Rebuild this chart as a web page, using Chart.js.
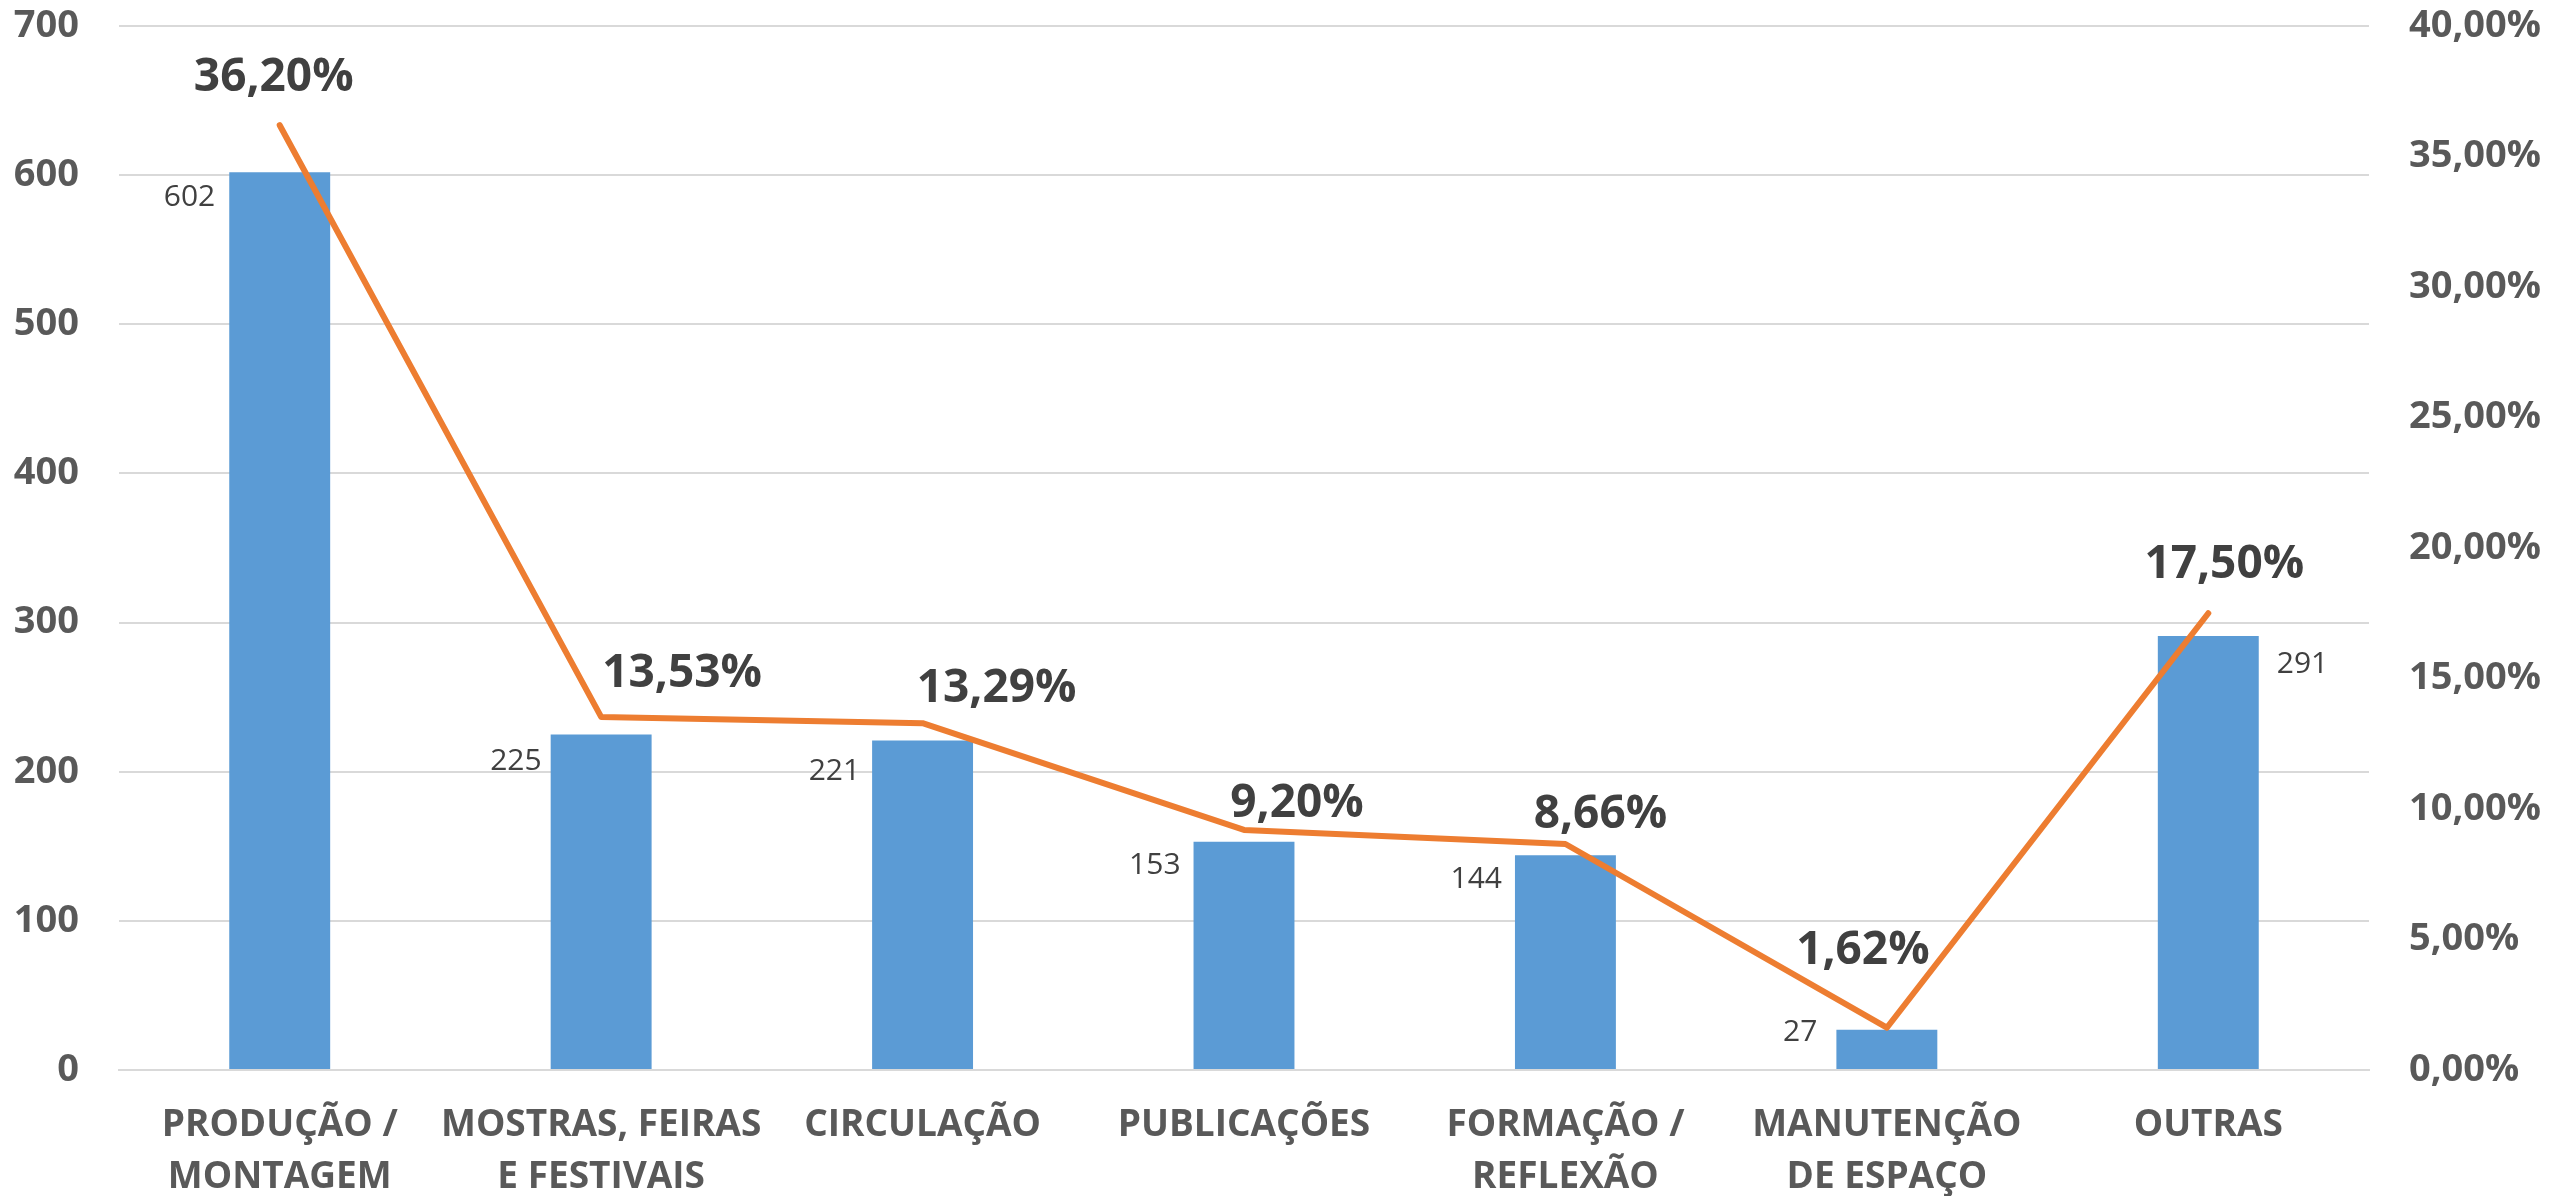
<!DOCTYPE html>
<html>
<head>
<meta charset="utf-8">
<script src="https://cdn.jsdelivr.net/npm/chart.js@4.4.1/dist/chart.umd.min.js"></script>
<style>
  html, body { margin: 0; padding: 0; background: #ffffff; }
  #wrap { width: 2549px; height: 1196px; position: relative; }
  canvas { display: block; }
</style>
</head>
<body>
<div id="wrap"><canvas id="c" width="2549" height="1196"></canvas></div>
<script>
// ---- data ----
const categories = [
  ['PRODUÇÃO /', 'MONTAGEM'],
  ['MOSTRAS, FEIRAS', 'E FESTIVAIS'],
  ['CIRCULAÇÃO'],
  ['PUBLICAÇÕES'],
  ['FORMAÇÃO /', 'REFLEXÃO'],
  ['MANUTENÇÃO', 'DE ESPAÇO'],
  ['OUTRAS']
];
const counts = [602, 225, 221, 153, 144, 27, 291];
const percents = [36.20, 13.53, 13.29, 9.20, 8.66, 1.62, 17.50];
const leftTicks = [0, 100, 200, 300, 400, 500, 600, 700];
const rightTicks = [0, 5, 10, 15, 20, 25, 30, 35, 40];

// ---- label placement (styling) ----
const pctLabelOffsets = [[-6,-51],[81,-46],[74,-38],[53,-29],[35,-32],[-24,-80],[16,-52]];
const valueLabelSide = ['left','left','left','left','left','left','right'];
const valueLabelDy = [25, 27, 31, 24, 24, 3, 28];
const valueLabelGap = [14, 9, 12, 13, 13, 19, 18];

const fmtPct = v => v.toFixed(2).replace('.', ',') + '%';

const labelPlugin = {
  id: 'customLabels',
  afterDatasetsDraw(chart) {
    const ctx = chart.ctx;
    ctx.save();
    const barMeta = chart.getDatasetMeta(1);
    ctx.font = '30px "Open Sans"';
    ctx.fillStyle = '#404040';
    ctx.textBaseline = 'middle';
    barMeta.data.forEach((bar, i) => {
      const half = bar.width / 2;
      const y = bar.y + valueLabelDy[i];
      if (valueLabelSide[i] === 'right') {
        ctx.textAlign = 'left';
        ctx.fillText(String(counts[i]), bar.x + half + valueLabelGap[i], y);
      } else {
        ctx.textAlign = 'right';
        ctx.fillText(String(counts[i]), bar.x - half - valueLabelGap[i], y);
      }
    });
    const lineMeta = chart.getDatasetMeta(0);
    const size = 46;
    ctx.font = 'bold ' + size + 'px "Open Sans"';
    ctx.fillStyle = '#404040';
    ctx.textAlign = 'center';
    ctx.textBaseline = 'alphabetic';
    lineMeta.data.forEach((pt, i) => {
      const [dx, dy] = pctLabelOffsets[i];
      ctx.fillText(fmtPct(percents[i]), pt.x + dx, pt.y + dy + size * 0.357);
    });
    ctx.restore();
  }
};

const tickFont = { family: '"Open Sans"', size: 38, weight: 'bold', lineHeight: 1.37 };

new Chart(document.getElementById('c'), {
  data: {
    labels: categories,
    datasets: [
      {
        type: 'line',
        data: percents,
        yAxisID: 'y2',
        borderColor: '#ED7D31',
        borderWidth: 6,
        pointRadius: 0,
        pointHoverRadius: 0,
        tension: 0,
        borderCapStyle: 'round',
        borderJoinStyle: 'round',
        order: 0
      },
      {
        type: 'bar',
        data: counts,
        yAxisID: 'y',
        backgroundColor: '#5B9BD5',
        borderWidth: 0,
        barPercentage: 0.314,
        categoryPercentage: 1.0,
        order: 1
      }
    ]
  },
  options: {
    responsive: false,
    animation: false,
    devicePixelRatio: 1,
    layout: { padding: 0 },
    plugins: { legend: { display: false }, tooltip: { enabled: false } },
    scales: {
      x: {
        grid: { display: false, drawTicks: false },
        border: { display: true, color: '#D9D9D9', width: 2 },
        ticks: {
          color: '#595959',
          font: { family: '"Open Sans"', size: 37, weight: 'bold', lineHeight: 1.4 },
          padding: 30,
          maxRotation: 0,
          autoSkip: false
        },
        afterFit(scale) { scale.height = 126; }
      },
      y: {
        position: 'left',
        min: 0,
        max: 700,
        afterBuildTicks(scale) { scale.ticks = leftTicks.map(v => ({ value: v })); },
        grid: { color: '#D9D9D9', lineWidth: 2, drawTicks: true, tickLength: 40, tickColor: 'rgba(0,0,0,0)' },
        border: { display: false },
        ticks: { color: '#595959', font: tickFont, padding: 0 },
        afterFit(scale) { scale.width = 119; }
      },
      y2: {
        position: 'right',
        min: 0,
        max: 40,
        afterBuildTicks(scale) { scale.ticks = rightTicks.map(v => ({ value: v })); },
        grid: { display: true, drawOnChartArea: false, drawTicks: true, tickLength: 40, tickColor: 'rgba(0,0,0,0)', color: 'rgba(0,0,0,0)' },
        border: { display: false },
        ticks: { color: '#595959', font: tickFont, padding: 0, callback: v => fmtPct(v) },
        afterFit(scale) { scale.width = 180; }
      }
    }
  },
  plugins: [labelPlugin]
});
</script>
</body>
</html>
